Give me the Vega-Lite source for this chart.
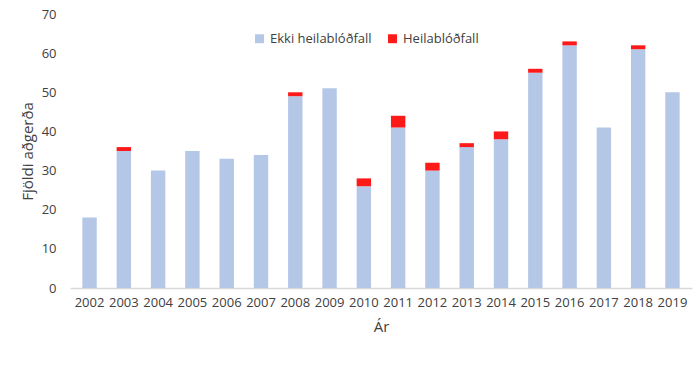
{
  "$schema": "https://vega.github.io/schema/vega-lite/v6.json",
  "width": 622,
  "height": 274,
  "autosize": "none",
  "padding": {"left": 70, "top": 14, "right": 8, "bottom": 77},
  "background": "white",
  "config": {"view": {"stroke": null}, "font": "Open Sans"},
  "data": {"values": [
    {"ar": "2002", "tegund": "Ekki heilablóðfall", "fjoldi": 18},
    {"ar": "2003", "tegund": "Ekki heilablóðfall", "fjoldi": 35},
    {"ar": "2003", "tegund": "Heilablóðfall", "fjoldi": 1},
    {"ar": "2004", "tegund": "Ekki heilablóðfall", "fjoldi": 30},
    {"ar": "2005", "tegund": "Ekki heilablóðfall", "fjoldi": 35},
    {"ar": "2006", "tegund": "Ekki heilablóðfall", "fjoldi": 33},
    {"ar": "2007", "tegund": "Ekki heilablóðfall", "fjoldi": 34},
    {"ar": "2008", "tegund": "Ekki heilablóðfall", "fjoldi": 49},
    {"ar": "2008", "tegund": "Heilablóðfall", "fjoldi": 1},
    {"ar": "2009", "tegund": "Ekki heilablóðfall", "fjoldi": 51},
    {"ar": "2010", "tegund": "Ekki heilablóðfall", "fjoldi": 26},
    {"ar": "2010", "tegund": "Heilablóðfall", "fjoldi": 2},
    {"ar": "2011", "tegund": "Ekki heilablóðfall", "fjoldi": 41},
    {"ar": "2011", "tegund": "Heilablóðfall", "fjoldi": 3},
    {"ar": "2012", "tegund": "Ekki heilablóðfall", "fjoldi": 30},
    {"ar": "2012", "tegund": "Heilablóðfall", "fjoldi": 2},
    {"ar": "2013", "tegund": "Ekki heilablóðfall", "fjoldi": 36},
    {"ar": "2013", "tegund": "Heilablóðfall", "fjoldi": 1},
    {"ar": "2014", "tegund": "Ekki heilablóðfall", "fjoldi": 38},
    {"ar": "2014", "tegund": "Heilablóðfall", "fjoldi": 2},
    {"ar": "2015", "tegund": "Ekki heilablóðfall", "fjoldi": 55},
    {"ar": "2015", "tegund": "Heilablóðfall", "fjoldi": 1},
    {"ar": "2016", "tegund": "Ekki heilablóðfall", "fjoldi": 62},
    {"ar": "2016", "tegund": "Heilablóðfall", "fjoldi": 1},
    {"ar": "2017", "tegund": "Ekki heilablóðfall", "fjoldi": 41},
    {"ar": "2018", "tegund": "Ekki heilablóðfall", "fjoldi": 61},
    {"ar": "2018", "tegund": "Heilablóðfall", "fjoldi": 1},
    {"ar": "2019", "tegund": "Ekki heilablóðfall", "fjoldi": 50}
  ]},
  "mark": {"type": "bar"},
  "encoding": {
    "x": {
      "field": "ar", "type": "ordinal", "title": "Ár",
      "scale": {"paddingInner": 0.58, "paddingOuter": 0.36},
      "axis": {"labelAngle": 0, "labelFontSize": 13, "labelColor": "#404040", "ticks": false,
               "domainColor": "#d9d9d9", "domainWidth": 1.5, "labelPadding": 8,
               "titleFontSize": 15, "titleFontWeight": "normal", "titleColor": "#404040", "titlePadding": 10}
    },
    "y": {
      "field": "fjoldi", "type": "quantitative", "stack": "zero", "title": "Fjöldi aðgerða",
      "scale": {"domain": [0, 70]},
      "axis": {"values": [0, 10, 20, 30, 40, 50, 60, 70], "grid": false, "domain": false, "ticks": false,
               "labelFontSize": 13, "labelColor": "#404040", "labelPadding": 14,
               "titleFontSize": 15, "titleFontWeight": "normal", "titleColor": "#404040", "titlePadding": 6}
    },
    "color": {
      "field": "tegund", "type": "nominal",
      "scale": {"domain": ["Ekki heilablóðfall", "Heilablóðfall"], "range": ["#b4c7e7", "#ff1a1a"]},
      "legend": {"title": null, "orient": "none", "direction": "horizontal", "legendX": 183, "legendY": 18,
                 "symbolType": "square", "symbolSize": 80, "labelFontSize": 13, "labelColor": "#404040",
                 "columnPadding": 14, "symbolStrokeWidth": 0}
    },
    "order": {"field": "tegund", "sort": "ascending"}
  }
}
